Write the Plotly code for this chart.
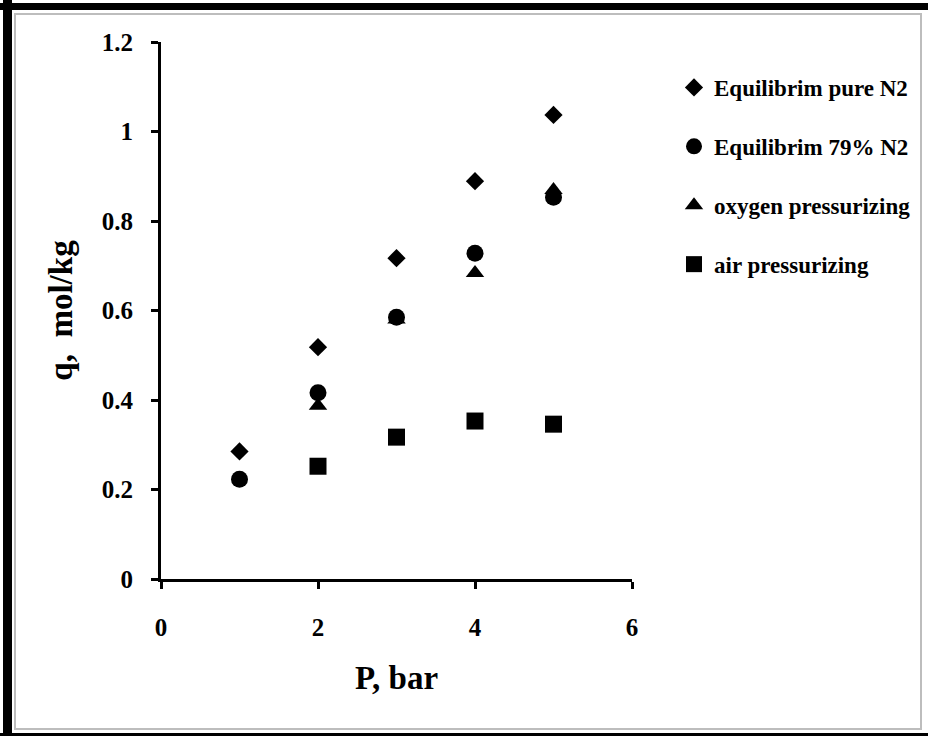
import plotly.graph_objects as go

# ---- data ----
pressure = [1, 2, 3, 4, 5]
eq_pure_n2 = [0.285, 0.518, 0.717, 0.889, 1.037]
eq_79_n2 = [0.223, 0.416, 0.585, 0.728, 0.853]
oxy_press_p = [2, 3, 4, 5]
oxy_press = [0.387, 0.580, 0.684, 0.869]
air_press_p = [2, 3, 4, 5]
air_press = [0.252, 0.317, 0.353, 0.346]

names = ["Equilibrim pure N2", "Equilibrim 79% N2",
         "oxygen pressurizing", "air pressurizing"]
x_ticks = [0, 2, 4, 6]
y_ticks = [0, 0.2, 0.4, 0.6, 0.8, 1.0, 1.2]
y_tick_text = ["0", "0.2", "0.4", "0.6", "0.8", "1", "1.2"]

FONT = "Liberation Serif"
W, H = 928, 736
L, R, T, B = 161, 296, 42, 157
PW, PH = W - L - R, H - T - B


def px(x):
    return (x - L) / PW


def py(y):
    return (H - B - y) / PH


fig = go.Figure()
series = [
    (pressure, eq_pure_n2, "diamond", 14),
    (pressure, eq_79_n2, "circle", 17),
    (oxy_press_p, oxy_press, "triangle-up", 16),
    (air_press_p, air_press, "square", 17),
]
for i, ((xs, ys, sym, sz), nm) in enumerate(zip(series, names)):
    fig.add_trace(go.Scatter(
        x=xs, y=ys, mode="markers", name=nm, legendgroup=f"g{i}",
        marker=dict(symbol=sym, size=sz, color="black"),
    ))

axis_common = dict(
    showline=True, linewidth=3, linecolor="black", mirror=False,
    ticks="outside", ticklen=7, tickwidth=3, tickcolor="black",
    showgrid=False, zeroline=False,
    tickfont=dict(family=FONT, size=25, color="black", weight="bold"),
)

fig.update_xaxes(
    range=[0, 6], tickvals=x_ticks, ticktext=[str(v) for v in x_ticks],
    ticklabelstandoff=17,
    title=dict(text="P, bar", standoff=26,
               font=dict(family=FONT, size=33, color="black", weight="bold")),
    **axis_common,
)
fig.update_yaxes(
    range=[0, 1.2], tickvals=y_ticks, ticktext=y_tick_text,
    ticklabelstandoff=13,
    title=dict(text="q,  mol/kg", standoff=20,
               font=dict(family=FONT, size=33, color="black", weight="bold")),
    **axis_common,
)

shapes = [
    # outer black frame: top, left, bottom
    dict(type="line", xref="paper", yref="paper", x0=px(0), x1=px(W), y0=py(6.5), y1=py(6.5),
         line=dict(color="black", width=7)),
    dict(type="line", xref="paper", yref="paper", x0=px(7.5), x1=px(7.5), y0=py(0), y1=py(H),
         line=dict(color="black", width=9)),
    dict(type="line", xref="paper", yref="paper", x0=px(0), x1=px(W), y0=py(734.5), y1=py(734.5),
         line=dict(color="black", width=3)),
    # inner grey frame
    dict(type="rect", xref="paper", yref="paper", x0=px(15), x1=px(921), y0=py(14), y1=py(729),
         line=dict(color="#bdbdbd", width=2)),
]

fig.update_layout(
    width=W, height=H,
    margin=dict(l=L, r=R, t=T, b=B, autoexpand=False),
    paper_bgcolor="white", plot_bgcolor="white",
    showlegend=True,
    legend=dict(
        x=px(674), y=py(66), xanchor="left", yanchor="top",
        font=dict(family=FONT, size=23, color="black", weight="bold"),
        tracegroupgap=26, bgcolor="rgba(0,0,0,0)", itemwidth=30,
    ),
    shapes=shapes,
)

fig.write_html("out.html", config={"displayModeBar": False},
               post_script="document.body.style.margin='0';")
